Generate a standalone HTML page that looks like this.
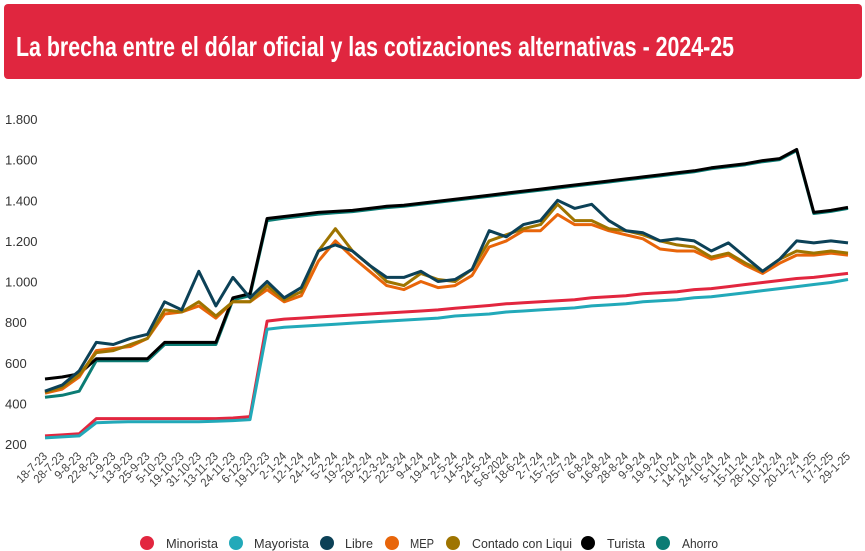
<!DOCTYPE html>
<html><head><meta charset="utf-8"><style>
body{margin:0;background:#fff;width:865px;height:551px;overflow:hidden}
svg{display:block;font-family:"Liberation Sans",sans-serif}
</style></head><body>
<svg id="chart" width="865" height="551" viewBox="0 0 865 551">
<rect x="4" y="4" width="858" height="75" rx="4" fill="#E0263F"/>
<text x="16" y="56" fill="#fff" font-weight="bold" font-size="28" textLength="718" lengthAdjust="spacingAndGlyphs">La brecha entre el dólar oficial y las cotizaciones alternativas - 2024-25</text>
<g id="yaxis"></g>
<g id="xaxis"></g>
<g id="lines"></g>
<g id="legend"></g>
</svg>
<script>
const categories=["18-7-23","28-7-23","9-8-23","22-8-23","1-9-23","13-9-23","25-9-23","5-10-23","19-10-23","31-10-23","13-11-23","24-11-23","6-12-23","19-12-23","2-1-24","12-1-24","24-1-24","5-2-24","19-2-24","29-2-24","12-3-24","22-3-24","9-4-24","19-4-24","2-5-24","14-5-24","24-5-24","5-6-2024","18-6-24","2-7-24","15-7-24","25-7-24","6-8-24","16-8-24","28-8-24","9-9-24","19-9-24","1-10-24","14-10-24","24-10-24","5-11-24","15-11-24","28-11-24","10-12-24","20-12-24","7-1-25","17-1-25","29-1-25"];
const yTicks=[200,400,600,800,1000,1200,1400,1600,1800];
const yTickLabels=["200","400","600","800","1.000","1.200","1.400","1.600","1.800"];
const seriesNames=["Minorista","Mayorista","Libre","MEP","Contado con Liqui","Turista","Ahorro"];
const minorista=[240,245,250,325,325,325,325,325,325,325,325,328,335,805,815,820,825,830,835,840,845,850,855,860,868,875,882,890,895,900,905,910,920,925,930,940,945,950,960,965,975,985,995,1005,1015,1020,1030,1040];
const mayorista=[230,235,240,305,308,310,310,310,310,310,312,315,320,765,775,780,785,790,795,800,805,810,815,820,830,835,840,850,855,860,865,870,880,885,890,900,905,910,920,925,935,945,955,965,975,985,995,1010];
const libre=[460,490,560,700,690,720,740,900,860,1050,880,1020,920,1000,920,970,1150,1180,1150,1080,1020,1020,1050,1000,1010,1060,1250,1220,1280,1300,1400,1360,1380,1300,1250,1240,1200,1210,1200,1150,1190,1120,1050,1110,1200,1190,1200,1190];
const mep=[450,470,530,660,670,680,720,840,850,880,820,900,900,960,900,930,1100,1200,1120,1050,980,960,1000,970,980,1030,1170,1200,1250,1250,1330,1280,1280,1250,1230,1210,1160,1150,1150,1110,1130,1080,1040,1090,1130,1130,1140,1130];
const ccl=[455,480,540,650,660,690,720,860,850,900,830,900,900,980,910,950,1150,1260,1150,1080,1000,980,1040,1010,1000,1060,1200,1230,1260,1280,1380,1300,1300,1260,1250,1230,1200,1180,1170,1120,1140,1090,1050,1110,1150,1140,1150,1140];
const turista=[520,530,545,620,620,620,620,700,700,700,700,920,940,1310,1320,1330,1340,1345,1350,1360,1370,1375,1385,1395,1405,1415,1425,1435,1445,1455,1465,1475,1485,1495,1505,1515,1525,1535,1545,1560,1570,1580,1595,1605,1650,1340,1350,1365];
const ahorro=[430,440,460,610,610,610,610,690,690,690,690,910,930,1300,1312,1322,1332,1338,1344,1354,1364,1370,1380,1390,1400,1410,1420,1430,1440,1450,1460,1470,1480,1490,1500,1510,1520,1530,1540,1555,1565,1575,1590,1600,1645,1335,1345,1360];
const colors=["#E2263F","#22A9B9","#0C4157","#E8650A","#9E7400","#000000","#0B7C74"];
const NS="http://www.w3.org/2000/svg";
function X(i){return 45+i*(848-45)/(categories.length-1);}
function Y(v){return 444-(v-200)*(444-119)/1600;}
const ya=document.getElementById('yaxis');
yTicks.forEach((t,k)=>{const e=document.createElementNS(NS,'text');


e.setAttribute('x',5);e.setAttribute('y',Y(t)+5);e.setAttribute('font-size','13');e.setAttribute('fill','#333');e.textContent=yTickLabels[k];ya.appendChild(e);});
const xa=document.getElementById('xaxis');
categories.forEach((c,i)=>{const e=document.createElementNS(NS,'text');


const x=X(i)+3,y=457;e.setAttribute('x',x);e.setAttribute('y',y);e.setAttribute('text-anchor','end');e.setAttribute('font-size','12');e.setAttribute('fill','#444');e.setAttribute('textLength',(c.length*5.4).toFixed(1));e.setAttribute('lengthAdjust','spacingAndGlyphs');e.setAttribute('transform',`rotate(-45 ${x} ${y})`);e.textContent=c;xa.appendChild(e);});
const data=[minorista,mayorista,ahorro,turista,mep,ccl,libre];
const order=[0,1,6,5,3,4,2];
const lg=document.getElementById('lines');
data.forEach((arr,k)=>{const si=order[k];const p=document.createElementNS(NS,'path');


p.setAttribute('d',arr.map((v,i)=>(i?'L':'M')+X(i).toFixed(1)+' '+Y(v).toFixed(1)).join(''));p.setAttribute('fill','none');p.setAttribute('stroke',colors[si]);p.setAttribute('stroke-width','3');p.setAttribute('stroke-linejoin','round');lg.appendChild(p);});
const legC=[147,236,327,392,453,588,663];
const legT=[166,254,345,410,472,607,682];
const legW=[52,55,28,24,100,38,36];
const leg=document.getElementById('legend');
seriesNames.forEach((n,k)=>{const g=document.createElementNS(NS,'g');


const c=document.createElementNS(NS,'circle');c.setAttribute('cx',legC[k]);c.setAttribute('cy',543);c.setAttribute('r',7);c.setAttribute('fill',colors[k]);
const t=document.createElementNS(NS,'text');t.setAttribute('x',legT[k]);t.setAttribute('y',548);t.setAttribute('font-size','13');t.setAttribute('fill','#333');t.setAttribute('textLength',legW[k]);t.setAttribute('lengthAdjust','spacingAndGlyphs');t.textContent=n;
g.appendChild(c);g.appendChild(t);leg.appendChild(g);});
</script>
</body></html>
